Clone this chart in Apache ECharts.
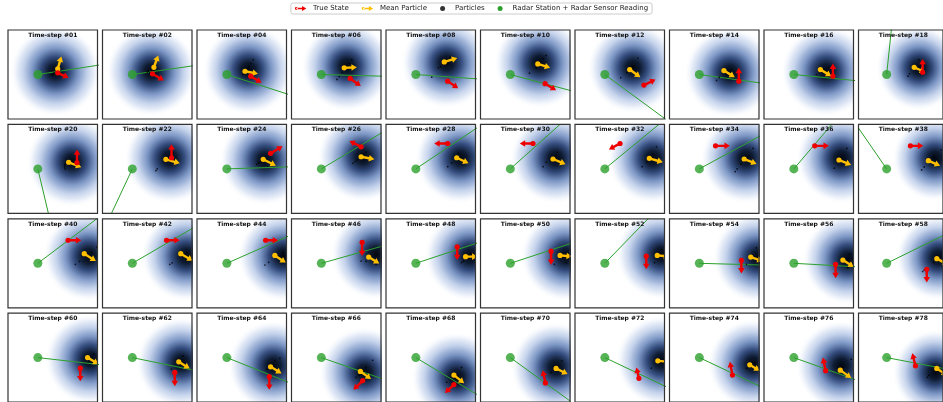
<!DOCTYPE html>
<html><head><meta charset="utf-8">
<script src="https://cdn.jsdelivr.net/npm/echarts@6/dist/echarts.min.js"></script>
<style>html,body{margin:0;padding:0;background:#fff}#c{width:943px;height:402px}</style>
</head><body><div id="c"></div>
<script>
// ---- data (panel units: x,y in [0,90], y up) ----
const stepNumbers = [1,2,4,6,8,10,12,14,16,18, 20,22,24,26,28,30,32,34,36,38, 40,42,44,46,48,50,52,54,56,58, 60,62,64,66,68,70,72,74,76,78];
const radarStation = [30, 45];
// [x, y, dx, dy]
const trueState = [
 [50,46.7,11,-5],[50.3,45.7,11.4,-6.7],[54,43.3,11,-6.6],[59,41,10.7,-7.7],[62,38.3,10.6,-7.3],[65,35.7,11,-6.7],[69.3,34.3,11.7,5.7],[69.7,38.3,0,13.4],[69.3,43.3,0,12.7],[68.3,47.3,0,13.4],
 [69.4,51.3,0,13.4],[69.4,56.3,0,13.7],[74,60.7,12,7.3],[70,67.3,-11.7,6],[62.1,70.7,-13.6,0],[52.8,70.7,-13.3,0],[45.3,70.7,-11.2,-6],[46.3,68.3,14.4,0],[51,68.3,14.3,0],[55.3,68.3,13.7,0],
 [60.4,68.3,13.3,0],[64.4,68.3,13.3,0],[69,68.3,12.6,0],[71,66.3,0,-14],[71.6,61.7,0,-13.4],[71,57.3,0,-14],[71.7,52.3,0,-13.3],[72.3,48,0,-13.3],[72,44,0,-14],[72.7,39,0,-13.3],
 [72.7,34.3,0,-13.3],[72.7,30,0,-14],[72.7,25.7,0,-13.4],[71.6,21.7,-9.3,-9.4],[68.3,17.7,-9,-8.7],[65.3,19.3,-2.7,13],[64.3,24,-2.6,11],[63.3,27.3,-2.6,13.4],[62,31.7,-2.7,13.3],[60.7,36.7,-3.4,12.6]
];
const meanParticle = [
 [50,50.7,3.7,12.6],[51.7,52.3,4.3,12],[48.3,48.3,13,-2.6],[53,51.7,12.7,0.6],[58.6,57.7,13,4],[57.6,55.7,12.4,-4],[55,50,10.7,-7.7],[54.7,49,11,-6.7],[56.7,50,11,-6.7],[59.3,52.3,11.7,-5],
 [61,51.7,12.7,-5],[63.7,54.7,14,-4],[66.6,54.7,12.7,-6.4],[70,57.3,13.3,-2.6],[71.1,56.3,11.9,-5.6],[72.9,55,12.6,-5.3],[74.7,55.7,13.6,-4],[75.1,55,12.5,-5],[75.4,54,12.2,-5],[74.4,53.3,12.5,-5],
 [76.7,54.7,11.7,-7.4],[78.7,54.7,12,-7],[78.3,53,11,-7.3],[77.6,51.3,10.7,-6.6],[80,51.7,12,0],[80,53,12,-1],[82.7,53,12,-1],[81.7,51.3,12,-4],[79.3,48.3,11,-7],[83.4,49.7,12,-6],
 [80,45,11,-6.5],[76.7,40.7,11,-6.7],[74,35.7,11,-6.7],[69.3,31,10.7,-7.7],[68.3,27.3,10.3,-8.3],[76,34,11.6,-5.7],[83.3,41.7,12,-1],[80.7,37.7,10,-6],[76.7,32.3,11,-8],[83.4,34,11,-7]
];
const densityCenter = [
 [47.7,48.3],[49.3,48.3],[51.6,50],[55.7,53.3],[61,56.7],[59.3,56.7],[58.3,51.7],[60.7,46.7],[62.7,48.3],[64.3,51.7],
 [64.4,52.3],[67.7,55.7],[68.3,54],[71.7,57.3],[74.7,55.7],[75.4,55.7],[78.3,55.7],[76.8,55.7],[77.9,55.7],[81.5,55.7],
 [81,52.3],[84.4,52.3],[86.6,52.3],[85,54],[84.3,52.3],[86,52.3],[86.7,54],[89,50.7],[84.3,49],[85,50.7],
 [82.7,43.3],[79.3,40],[76.6,36.7],[73.3,30],[71,25],[76,35],[86.7,41.7],[84,38.3],[77.7,36.7],[81.7,30]
];
// bearing of radar reading, degrees (counter-clockwise from +x)
const sensorAngle = [
 8.8,8.2,-18,-1.6,-4.1,-15,-36.5,-7.9,-5.7,83.7,
 -76.7,-115,1.9,31,34,42,39.6,28.6,49.7,126,
 37.2,30.3,23.9,15.8,18.4,18.2,46,-1.6,-3.2,25,
 -6.5,-11.7,-22,-19.3,-31.3,-36.2,-25.6,-25.5,-19.9,-10.3
];
const particles = [
 [[44.4,45],[46,46.5],[45,44],[48,47]],
 [[46,48.3],[47.5,47],[45,47.5]],
 [[56.6,60],[54,56],[52,53],[50,50],[48,47],[46.6,45]],
 [[60.7,60],[58,56.5],[55,53],[51,47],[48,43],[45.7,40]],
 [[64.3,62.7],[61,60],[58,56],[55,53],[52.6,51.7],[46,42.3]],
 [[66,64.3],[63,61],[60,57],[56,51.7],[49.3,46.3]],
 [[63.3,61.7],[58,53],[55,50],[52,47],[46,41.7]],
 [[59,48],[62,50],[57,45],[50,42],[47.3,39]],
 [[61,46.7],[52.7,45],[65,52],[58,48]],
 [[64.3,60],[52.7,43.3],[54.3,45.7],[59,52]],
 [[57,49],[57,47],[57.5,45],[58,50.5]],
 [[71,61.7],[68,58],[66,56],[53.7,43.3],[55,45]],
 [[61.6,50.7],[63,51.5],[60,49.5],[65,53]],
 [[61.7,50.7],[64,52.5],[66,54],[75,62],[72,60]],
 [[72.9,60.7],[70,58],[66,51],[62.1,47.3]],
 [[77.2,61.7],[70,56],[66,52],[62.9,47.3]],
 [[81.9,67.3],[78,60],[72,52],[67.5,47.3]],
 [[84,65.7],[80,58],[72,50],[68,45],[66.1,42.3]],
 [[83.3,65.7],[70.7,45.7],[78,56]],
 [[67.2,44],[70,47],[80,57],[88,64]],
 [[89.4,61.7],[84,56],[80,52],[72,47],[67.7,44]],
 [[67.7,44],[70,45.5],[85,56],[82,53]],
 [[68.3,43.3],[72,46],[82,52],[86,56]],
 [[70,47.3],[85,44],[75,47]],
 [[76,45.7],[78,47],[85,55]],
 [[74.3,44],[82.6,50.7],[86,45.7]],
 [[86.7,59],[80,45.7]],
 [[87.4,60.7],[77.4,44]],
 [[86,54],[84.3,40.7]],
 [[68.3,36.7],[70,38],[80,46]],
 [[86,48.3],[77.7,45]],
 [[81,46.7],[69.4,33.3]],
 [[78.3,41.7],[83.3,44.3],[70,33.3]],
 [[81.6,42.3],[75,35],[65,25],[68,27]],
 [[76,35],[61,20]],
 [[82,41.7],[71,30]],
 [[76.7,34.3]],
 [[77.4,34],[85.7,40]],
 [[87.7,43.3],[79.3,35]],
 [[73.3,25],[75,27]]
];

// ---- styles ----
const RED = '#ee0000', YEL = '#ffbf00', GRN = '#2ca02c';
const FONT = 'DejaVu Sans';
const DENSITY_R = 46;

function arrowItem(color) {
  return function (params, api) {
    const x = api.value(0), y = api.value(1), dx = api.value(2), dy = api.value(3);
    const p0 = api.coord([x, y]), p1 = api.coord([x + dx, y + dy]);
    const vx = p1[0] - p0[0], vy = p1[1] - p0[1];
    const L = Math.hypot(vx, vy) || 1;
    const ux = vx / L, uy = vy / L, nx = -uy, ny = ux;
    const hl = 5.4, hw = 3.3, sw = 1.2;
    const bx = p1[0] - ux * hl, by = p1[1] - uy * hl;
    const pts = [
      [p0[0] + nx * sw, p0[1] + ny * sw], [bx + nx * sw, by + ny * sw], [bx + nx * hw, by + ny * hw],
      [p1[0], p1[1]], [bx - nx * hw, by - ny * hw], [bx - nx * sw, by - ny * sw], [p0[0] - nx * sw, p0[1] - ny * sw]
    ];
    return { type: 'group', children: [
      { type: 'polygon', shape: { points: pts }, style: { fill: color } },
      { type: 'circle', shape: { cx: p0[0], cy: p0[1], r: 2.6 }, style: { fill: color } }
    ]};
  };
}
function densityItem(params, api) {
  const c = api.coord([api.value(0), api.value(1)]);
  const r = api.size([DENSITY_R, 0])[0];
  return { type: 'circle', shape: { cx: c[0], cy: c[1], r: r }, style: {
    fill: new echarts.graphic.RadialGradient(0.5, 0.5, 0.5, [
      { offset: 0, color: '#03070f' }, { offset: 0.16, color: '#0e1b32' }, { offset: 0.32, color: '#344d7e' },
      { offset: 0.5, color: '#7d97c5' }, { offset: 0.7, color: '#c4d2eb' }, { offset: 0.86, color: '#edf2fa' },
      { offset: 1, color: 'rgba(255,255,255,0)' }
    ]) } };
}

const grid = [], xAxis = [], yAxis = [], title = [], series = [];
const COLS = 10, X0 = 8, Y0 = 30, DX = 94.5, DY = 94.4, W = 89.5, H = 89;
stepNumbers.forEach((n, i) => {
  const row = Math.floor(i / COLS), col = i % COLS;
  const left = X0 + col * DX, top = Y0 + row * DY;
  grid.push({ left: left, top: top, width: W, height: H, show: true, borderColor: '#333', borderWidth: 1.2, backgroundColor: 'transparent', z: 10 });
  xAxis.push({ gridIndex: i, type: 'value', min: 0, max: 90, show: false });
  yAxis.push({ gridIndex: i, type: 'value', min: 0, max: 90, show: false });
  title.push({ text: 'Time-step #' + String(n).padStart(2, '0'), left: left + W / 2, top: top + 2.5, textAlign: 'center', padding: 0, z: 20,
    textStyle: { fontSize: 6, fontWeight: 'bold', fontFamily: FONT, color: '#111' } });
  const a = sensorAngle[i] * Math.PI / 180;
  series.push(
    { type: 'custom', xAxisIndex: i, yAxisIndex: i, clip: true, silent: true, z: 1, renderItem: densityItem, data: [densityCenter[i]] },
    { type: 'line', name: 'Radar Station + Radar Sensor Reading', xAxisIndex: i, yAxisIndex: i, z: 2, symbol: 'none', clip: true, silent: true,
      lineStyle: { color: GRN, width: 1 }, data: [radarStation, [radarStation[0] + 250 * Math.cos(a), radarStation[1] + 250 * Math.sin(a)]] },
    { type: 'scatter', name: 'Particles', xAxisIndex: i, yAxisIndex: i, z: 3, symbolSize: 1.7, silent: true, itemStyle: { color: '#000' }, data: particles[i] },
    { type: 'scatter', name: 'Radar Station + Radar Sensor Reading', xAxisIndex: i, yAxisIndex: i, z: 4, symbolSize: 9, silent: true, itemStyle: { color: GRN }, data: [radarStation] },
    { type: 'custom', name: 'Mean Particle', xAxisIndex: i, yAxisIndex: i, z: 5, clip: true, silent: true, renderItem: arrowItem(YEL), data: [meanParticle[i]] },
    { type: 'custom', name: 'True State', xAxisIndex: i, yAxisIndex: i, z: 6, clip: true, silent: true, renderItem: arrowItem(RED), data: [trueState[i]] }
  );
});

const arrowIcon = 'path://M2,4 L10,4 L10,1.5 L16,5 L10,8.5 L10,6 L2,6 Z M0,5 A2,2 0 1 0 4,5 A2,2 0 1 0 0,5 Z';
const chart = echarts.init(document.getElementById('c'), null, { renderer: 'canvas' });
chart.setOption({
  animation: false,
  backgroundColor: '#fff',
  title: title,
  legend: {
    top: 3, left: 'center', selectedMode: false, itemWidth: 15, itemHeight: 5, itemGap: 13,
    borderColor: '#cccccc', borderWidth: 1, borderRadius: 2, padding: [2, 4],
    textStyle: { fontSize: 7, fontFamily: FONT, color: '#222' },
    data: [
      { name: 'True State', icon: arrowIcon, itemStyle: { color: RED } },
      { name: 'Mean Particle', icon: arrowIcon, itemStyle: { color: YEL } },
      { name: 'Particles', icon: 'circle', itemStyle: { color: '#000' } },
      { name: 'Radar Station + Radar Sensor Reading', icon: 'circle', itemStyle: { color: GRN } }
    ]
  },
  grid: grid, xAxis: xAxis, yAxis: yAxis, series: series
});
</script></body></html>
